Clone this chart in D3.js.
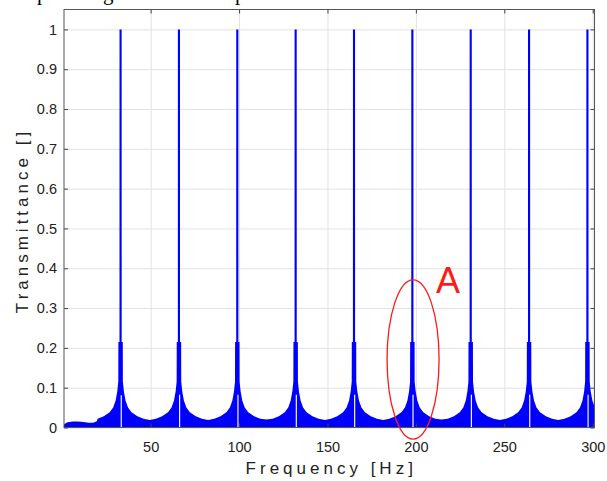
<!DOCTYPE html>
<html>
<head>
<meta charset="utf-8">
<script src="https://cdn.jsdelivr.net/npm/d3@7"></script>
<style>
body { margin: 0; background: #fff; }
text { font-family: "Liberation Sans", Arial, sans-serif; }
</style>
</head>
<body>
<svg id="chart" width="607" height="481"></svg>
<script>
// resonance peaks (Hz) and their levels
var peakHz = [33, 66, 99, 132, 165, 198, 231, 264, 297];
var peakTop = [1, 1, 1, 1, 1, 1, 1, 1, 1];
var shoulderTop = [0.215, 0.215, 0.215, 0.215, 0.215, 0.215, 0.215, 0.215, 0.215];
var gapTop = [0.081, 0.082, 0.082, 0.082, 0.082, 0.082, 0.082, 0.082, 0.082];
// level half way between one peak and the next
var valleyTop = [0.019, 0.019, 0.02, 0.019, 0.019, 0.02, 0.019, 0.019];
// skirt read around a peak: distance from peak (Hz) / transmittance
var skirtOffset = [1.3, 1.9, 2.8, 4.2, 6.2, 9.5, 13];
var skirtTop = [0.115, 0.09, 0.068, 0.05, 0.038, 0.028, 0.022];
// start of the sweep, before the first peak
var startHz = [1, 3, 6, 9, 12, 15, 17.5, 19.5];
var startTop = [0.008, 0.013, 0.015, 0.015, 0.014, 0.012, 0.012, 0.016];

var xTicks = [50, 100, 150, 200, 250, 300];
var yTicks = [0, 0.1, 0.2, 0.3, 0.4, 0.5, 0.6, 0.7, 0.8, 0.9, 1];

var svg = d3.select('#chart');
var pL = 64, pR = 594.5, pT = 9.5, pB = 427.5;

var x = d3.scaleLinear().domain([1, 301]).range([pL, pR]);
var y = d3.scaleLinear().domain([0, 1.05]).range([pB, pT]);

// cut-off line of text from the page above
svg.append('g').selectAll('text')
    .data([['p', 37], ['g', 103], ['p', 235]])
    .enter().append('text')
    .attr('x', function (d) { return d[1]; })
    .attr('y', 0)
    .style('font-family', '"Liberation Serif", serif')
    .style('font-size', '21px')
    .attr('fill', '#000')
    .text(function (d) { return d[0]; });

// grid
svg.append('g')
    .attr('transform', 'translate(0,' + pB + ')')
    .call(d3.axisBottom(x).tickValues(xTicks).tickSize(-(pB - pT)).tickFormat(''))
    .call(function (g) { g.select('.domain').remove(); })
    .selectAll('line').attr('stroke', '#e2e2e2');
svg.append('g')
    .attr('transform', 'translate(' + pL + ',0)')
    .call(d3.axisLeft(y).tickValues(yTicks).tickSize(-(pR - pL)).tickFormat(''))
    .call(function (g) { g.select('.domain').remove(); })
    .selectAll('line').attr('stroke', '#e2e2e2');

// build the curve outline from the read values
var pts = startHz.map(function (f, i) { return [f, startTop[i]]; });
peakHz.forEach(function (c, i) {
    var j;
    for (j = skirtOffset.length - 1; j >= 0; j--) pts.push([c - skirtOffset[j], skirtTop[j]]);
    pts.push([c - 1.25, shoulderTop[i]]);
    pts.push([c - 0.62, shoulderTop[i]]);
    pts.push([c - 0.6, peakTop[i]]);
    pts.push([c + 0.6, peakTop[i]]);
    pts.push([c + 0.62, shoulderTop[i]]);
    pts.push([c + 1.25, shoulderTop[i]]);
    for (j = 0; j < skirtOffset.length; j++) pts.push([c + skirtOffset[j], skirtTop[j]]);
    if (i < valleyTop.length) pts.push([c + 16.5, valleyTop[i]]);
});

svg.append('clipPath').attr('id', 'plotclip')
    .append('rect').attr('x', pL).attr('y', pT)
    .attr('width', pR - pL).attr('height', pB - pT);

var plot = svg.append('g').attr('clip-path', 'url(#plotclip)');

var area = d3.area()
    .x(function (d) { return x(d[0]); })
    .y0(y(0))
    .y1(function (d) { return y(d[1]); });

plot.append('path')
    .datum(pts)
    .attr('d', area)
    .attr('fill', '#0000ff');

// white notch just at each resonance
plot.selectAll('.gap')
    .data(peakHz)
    .enter().append('path')
    .attr('class', 'gap')
    .attr('d', function (c, i) { return area([[c + 0.05, gapTop[i]], [c + 0.7, gapTop[i]]]); })
    .attr('fill', '#fff');

// axes with inward ticks on all four sides
function styleAxis(g) {
    g.select('.domain').remove();
    g.selectAll('line').attr('stroke', '#444');
    g.selectAll('text')
        .attr('fill', '#222')
        .style('font-size', '14.5px')
        .style('font-family', '"Liberation Sans", Arial, sans-serif');
}
svg.append('g')
    .attr('transform', 'translate(0,' + pB + ')')
    .call(d3.axisBottom(x).tickValues(xTicks).tickSizeInner(-4).tickSizeOuter(0).tickPadding(14))
    .call(styleAxis);
svg.append('g')
    .attr('transform', 'translate(0,' + pT + ')')
    .call(d3.axisTop(x).tickValues(xTicks).tickSizeInner(-4).tickSizeOuter(0).tickFormat(''))
    .call(styleAxis);
svg.append('g')
    .attr('transform', 'translate(' + pL + ',0)')
    .call(d3.axisLeft(y).tickValues(yTicks).tickSizeInner(-4).tickSizeOuter(0).tickPadding(7)
        .tickFormat(function (d) { return d === 0 || d === 1 ? String(d) : d.toFixed(1); }))
    .call(styleAxis);
svg.append('g')
    .attr('transform', 'translate(' + pR + ',0)')
    .call(d3.axisRight(y).tickValues(yTicks).tickSizeInner(-4).tickSizeOuter(0).tickFormat(''))
    .call(styleAxis);

svg.append('rect')
    .attr('x', pL).attr('y', pT)
    .attr('width', pR - pL).attr('height', pB - pT)
    .attr('fill', 'none').attr('stroke', '#555').attr('stroke-width', 1);

// axis titles
svg.append('text')
    .attr('x', (pL + pR) / 2 + 2)
    .attr('y', 474)
    .attr('text-anchor', 'middle')
    .style('font-size', '17px')
    .style('letter-spacing', '4px')
    .attr('fill', '#222')
    .text('Frequency [Hz]');
svg.append('text')
    .attr('transform', 'translate(28,' + ((pT + pB) / 2 + 2) + ') rotate(-90)')
    .attr('text-anchor', 'middle')
    .style('font-size', '17px')
    .style('letter-spacing', '4px')
    .attr('fill', '#222')
    .text('Transmittance []');

// annotation "A" around the 198 Hz peak
var markHz = 198.4, markT = 0.171, markHalfHz = 14.7, markHalfT = 0.2;
svg.append('ellipse')
    .attr('cx', x(markHz))
    .attr('cy', y(markT))
    .attr('rx', x(markHz + markHalfHz) - x(markHz))
    .attr('ry', y(0) - y(markHalfT))
    .attr('fill', 'none')
    .attr('stroke', '#ff1a1a')
    .attr('stroke-width', 1.3);
svg.append('text')
    .attr('x', x(218.2))
    .attr('y', y(0.3375))
    .attr('text-anchor', 'middle')
    .style('font-size', '36px')
    .attr('fill', '#ff1a1a')
    .text('A');
</script>
</body>
</html>
